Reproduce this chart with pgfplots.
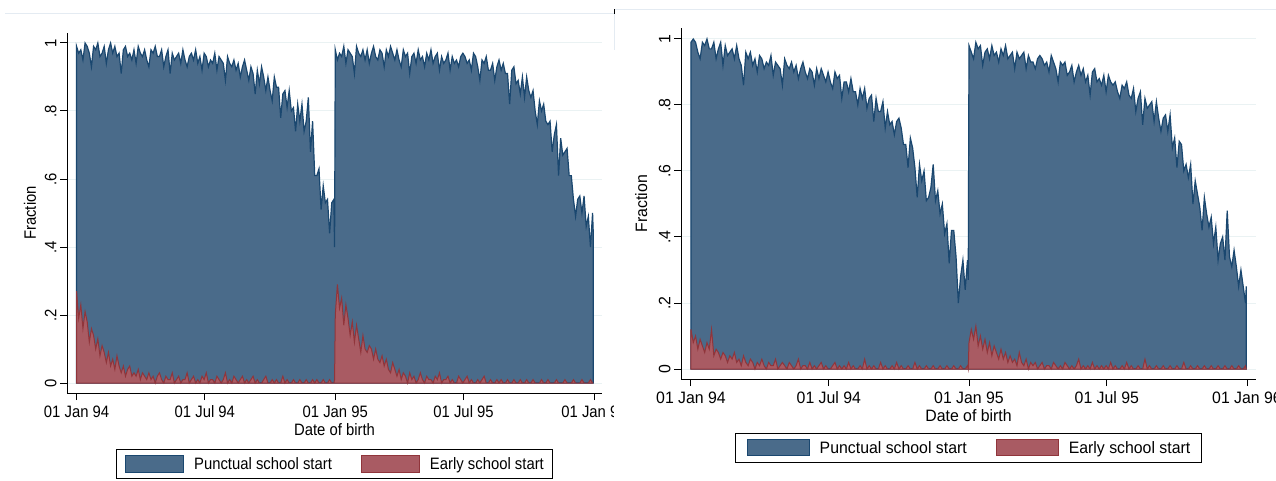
\documentclass[border=0pt]{standalone}
\usepackage{fontspec}
\setmainfont{Liberation Sans}
\newfontfamily\leftfont[FakeStretch=0.9]{Liberation Sans}
\newfontfamily\rightfont[FakeStretch=0.96]{Liberation Sans}
\usepackage{pgfplots}
\usepackage{pgfplotstable}
\pgfplotsset{compat=1.18}

\definecolor{areablue}{RGB}{74,107,138}
\definecolor{lineblue}{RGB}{26,71,111}
\definecolor{areared}{RGB}{169,91,99}
\definecolor{linered}{RGB}{144,53,59}
\definecolor{gridc}{RGB}{234,242,243}
\definecolor{framec}{RGB}{228,235,242}

% Day index d counts from 01 Jan 94 (d=0) to 01 Jan 96 (d=730);
% p = fraction with punctual school start, e = fraction with early start.
\pgfplotstableread{
d p e
0 .99 .27
3 .97 .19
6 .98 .23
9 .95 .16
12 1.00 .21
15 .99 .18
18 .97 .12
21 .93 .16
24 .99 .14
27 .98 .10
30 1.00 .13
33 .96 .08
36 .97 .11
39 .99 .09
42 .94 .06
45 .98 .09
48 1.00 .05
51 .97 .07
54 .99 .04
57 .96 .08
60 .97 .05
63 .91 .03
66 .98 .05
69 .99 .02
72 .96 .04
75 .97 .05
78 .95 .02
81 .98 .03
84 .94 .02
87 .99 .04
90 .97 .01
93 .96 .03
96 .98 .02
99 .95 .01
102 .93 .03
105 .98 .01
108 .97 .02
111 .99 .00
114 .96 .02
117 .96 .03
120 .98 .01
123 .93 .00
126 .96 .02
129 .98 .01
132 .91 .01
135 .97 .03
138 .95 .00
141 .96 .01
144 .97 .02
147 .94 .00
150 .98 .01
153 .95 .01
156 .93 .03
159 .96 .00
162 .97 .01
165 .95 .02
168 .98 .00
171 .94 .01
174 .96 .00
177 .92 .02
180 .97 .01
183 .96 .03
186 .93 .00
189 .95 .01
192 .94 .01
195 .97 .00
198 .92 .02
201 .96 .01
204 .95 .00
207 .94 .01
210 .89 .03
213 .96 .00
216 .94 .01
219 .93 .00
222 .95 .02
225 .92 .01
228 .94 .00
231 .90 .01
234 .93 .02
237 .95 .00
240 .92 .01
243 .89 .00
246 .93 .01
249 .91 .02
252 .85 .00
255 .92 .01
258 .88 .00
261 .93 .00
264 .90 .01
267 .86 .02
270 .90 .00
273 .86 .00
276 .83 .01
279 .90 .00
282 .87 .01
285 .87 .00
288 .78 .00
291 .85 .02
294 .86 .00
297 .81 .01
300 .86 .00
303 .80 .00
306 .81 .01
309 .74 .00
312 .82 .00
315 .77 .01
318 .82 .00
321 .74 .00
324 .77 .01
327 .84 .00
330 .68 .00
333 .77 .01
336 .61 .00
339 .61 .01
342 .63 .00
345 .51 .00
348 .58 .01
351 .53 .00
354 .54 .00
357 .44 .01
360 .53 .00
363 .54 .00
364 .40 .01
365 .98 .20
368 .95 .29
371 .97 .22
374 .96 .25
377 .99 .17
380 .94 .23
383 .98 .19
386 .97 .14
389 .96 .18
392 .91 .12
395 .99 .17
398 .97 .13
401 .96 .09
404 .98 .14
407 .95 .10
410 .98 .09
413 .94 .11
416 .97 .10
419 .99 .07
422 .96 .10
425 .95 .07
428 .98 .06
431 .97 .08
434 .93 .05
437 .98 .07
440 .96 .04
443 .99 .03
446 .97 .06
449 .95 .04
452 .98 .02
455 .95 .04
458 .93 .01
461 .98 .03
464 .96 .02
467 .97 .00
470 .91 .03
473 .96 .01
476 .97 .02
479 .94 .00
482 .98 .01
485 .95 .03
488 .96 .01
491 .93 .00
494 .97 .02
497 .95 .01
500 .98 .01
503 .94 .00
506 .96 .02
509 .97 .01
512 .92 .03
515 .96 .00
518 .94 .01
521 .95 .01
524 .97 .02
527 .92 .00
530 .96 .01
533 .94 .00
536 .95 .00
539 .93 .02
542 .96 .01
545 .97 .00
548 .96 .01
551 .94 .02
554 .95 .00
557 .92 .01
560 .97 .00
563 .96 .00
566 .93 .01
569 .89 .00
572 .95 .01
575 .94 .02
578 .96 .00
581 .92 .00
584 .92 .01
587 .94 .00
590 .89 .00
593 .93 .01
596 .95 .00
599 .92 .01
602 .94 .00
605 .91 .00
608 .91 .01
611 .82 .00
614 .92 .00
617 .93 .01
620 .88 .00
623 .89 .00
626 .85 .01
629 .90 .00
632 .84 .00
635 .90 .01
638 .86 .00
641 .84 .00
644 .86 .01
647 .80 .00
650 .76 .00
653 .83 .00
656 .80 .01
659 .82 .00
662 .77 .00
665 .76 .01
668 .77 .00
671 .68 .00
674 .73 .00
677 .76 .01
680 .61 .00
683 .72 .00
686 .67 .00
689 .68 .01
692 .69 .00
695 .61 .00
698 .61 .00
701 .54 .01
704 .49 .00
707 .54 .00
710 .55 .00
713 .50 .01
716 .55 .00
719 .46 .00
722 .49 .00
725 .40 .01
728 .50 .00
729 .44 .00
}\tableA

\pgfplotstableread{
d p e
0 .99 .12
3 1.00 .08
6 .99 .10
9 .96 .06
12 .94 .09
15 .99 .07
18 .98 .05
21 1.00 .08
24 .97 .06
27 .97 .12
30 .99 .04
33 .94 .06
36 .97 .05
39 .99 .03
42 .92 .05
45 .98 .04
48 .95 .02
51 .96 .04
54 .97 .03
57 .94 .05
60 .98 .02
63 .94 .03
66 .92 .01
69 .86 .04
72 .96 .02
75 .94 .01
78 .96 .03
81 .92 .02
84 .94 .00
87 .90 .02
90 .95 .01
93 .94 .03
96 .91 .01
99 .93 .00
102 .92 .02
105 .95 .01
108 .89 .01
111 .93 .03
114 .92 .00
117 .91 .01
120 .86 .02
123 .94 .01
126 .92 .00
129 .91 .02
132 .93 .01
135 .90 .00
138 .92 .01
141 .88 .03
144 .91 .00
147 .93 .01
150 .90 .01
153 .88 .00
156 .91 .02
159 .90 .00
162 .86 .01
165 .91 .00
168 .88 .01
171 .91 .02
174 .89 .00
177 .87 .01
180 .90 .00
183 .87 .00
186 .85 .01
189 .90 .02
192 .88 .00
195 .89 .01
198 .82 .00
201 .87 .01
204 .87 .00
207 .84 .02
210 .88 .00
213 .84 .01
216 .84 .00
219 .80 .00
222 .85 .01
225 .82 .00
228 .85 .03
231 .79 .00
234 .82 .01
237 .83 .00
240 .75 .01
243 .82 .00
246 .78 .00
249 .78 .02
252 .81 .00
255 .73 .01
258 .78 .00
261 .74 .00
264 .75 .01
267 .71 .00
270 .75 .02
273 .76 .00
276 .73 .01
279 .68 .00
282 .68 .00
285 .61 .01
288 .70 .00
291 .67 .00
294 .61 .02
297 .52 .00
300 .62 .01
303 .57 .00
306 .60 .00
309 .51 .01
312 .52 .00
315 .55 .00
318 .62 .01
321 .51 .00
324 .54 .00
327 .47 .01
330 .50 .00
333 .41 .00
336 .44 .01
339 .32 .00
342 .42 .00
345 .42 .01
348 .34 .00
351 .20 .00
354 .28 .01
357 .33 .00
360 .24 .00
363 .33 .01
364 .27 .00
365 .98 .08
368 .96 .12
371 .94 .09
374 .99 .13
377 .97 .07
380 .98 .10
383 .92 .06
386 .96 .09
389 .97 .05
392 .94 .08
395 .98 .04
398 .95 .07
401 .96 .05
404 .93 .03
407 .97 .06
410 .95 .03
413 .98 .05
416 .94 .02
419 .95 .04
422 .96 .02
425 .91 .03
428 .96 .01
431 .94 .05
434 .95 .02
437 .96 .01
440 .91 .03
443 .95 .00
446 .93 .02
449 .93 .01
452 .91 .02
455 .94 .00
458 .95 .01
461 .94 .02
464 .92 .00
467 .93 .01
470 .90 .01
473 .95 .00
476 .93 .02
479 .91 .01
482 .87 .00
485 .93 .01
488 .92 .00
491 .93 .02
494 .89 .01
497 .90 .00
500 .92 .01
503 .87 .00
506 .90 .01
509 .92 .03
512 .89 .00
515 .91 .01
518 .87 .00
521 .89 .01
524 .83 .00
527 .90 .02
530 .91 .00
533 .87 .01
536 .88 .00
539 .86 .01
542 .89 .00
545 .84 .01
548 .89 .00
551 .87 .02
554 .86 .00
557 .87 .01
560 .84 .00
563 .82 .00
566 .86 .01
569 .85 .00
572 .87 .02
575 .83 .00
578 .82 .01
581 .85 .00
584 .78 .00
587 .82 .01
590 .84 .00
593 .74 .00
596 .82 .03
599 .79 .00
602 .80 .01
605 .81 .00
608 .75 .00
611 .81 .01
614 .76 .00
617 .72 .00
620 .76 .01
623 .77 .00
626 .72 .00
629 .77 .01
632 .67 .00
635 .70 .00
638 .61 .01
641 .69 .00
644 .68 .00
647 .60 .02
650 .62 .00
653 .58 .00
656 .62 .01
659 .50 .00
662 .57 .00
665 .53 .01
668 .49 .00
671 .42 .00
674 .52 .01
677 .47 .00
680 .43 .00
683 .46 .01
686 .38 .00
689 .43 .00
692 .33 .01
695 .38 .00
698 .40 .00
701 .33 .01
704 .48 .00
707 .34 .00
710 .31 .01
713 .36 .00
716 .31 .00
719 .25 .01
722 .30 .00
725 .25 .00
728 .20 .01
729 .25 .00
}\tableB

\pgfplotsset{
  stataarea/.style={
    scale only axis,
    axis x line*=bottom, axis y line*=left,
    axis line style={-, line width=1pt, black},
    tick align=outside, major tick length=7pt,
    tick style={line width=1pt, black},
    xtick={0,181,365,546,730},
    xticklabels={01 Jan 94,01 Jul 94,01 Jan 95,01 Jul 95,01 Jan 96},
    ytick={0,0.2,0.4,0.6,0.8,1},
    yticklabels={0,.2,.4,.6,.8,1},
    xticklabel style={yshift=-2pt},
    yticklabel style={rotate=90, anchor=south},
    ymajorgrids, major grid style={gridc, line width=1pt},
    xlabel={Date of birth}, ylabel={Fraction},
    xlabel style={at={(axis description cs:0.5,-0.103)}, anchor=center},
    ylabel style={at={(axis description cs:-0.069,0.5)}, anchor=center},
    legend columns=2,
    legend cell align=left,
    legend style={draw=black, line width=1pt, anchor=north,
      inner ysep=5.5pt,
      nodes={inner xsep=0pt, inner ysep=2pt},
      /tikz/every odd column/.append style={column sep=10pt},
      /tikz/every even column/.append style={column sep=29pt}},
  },
  leftfonts/.style={
    tick label style={font=\leftfont\fontsize{16.5}{19}\selectfont},
    label style={font=\leftfont\fontsize{16.5}{19}\selectfont},
    legend style={font=\leftfont\fontsize{16.5}{19}\selectfont},
  },
  rightfonts/.style={
    tick label style={font=\rightfont\fontsize{16.5}{19}\selectfont},
    label style={font=\rightfont\fontsize{16.5}{19}\selectfont},
    legend style={font=\rightfont\fontsize{16.5}{19}\selectfont},
  },
  punct/.style={fill=areablue, draw=lineblue, line width=1.2pt},
  early/.style={fill=areared, draw=linered, line width=1pt},
}

\begin{document}
\begin{tikzpicture}
\useasboundingbox (0pt,0pt) rectangle (1276pt,480pt);

% left panel
\begin{axis}[stataarea, leftfonts,
  at={(67pt,87pt)}, anchor=south west,
  width=535pt, height=360pt,
  xmin=-13.5, xmax=741.3,
  ymin=-0.0294, ymax=1.0294,
  legend image code/.code={\draw[#1, line width=1pt] (0pt,-8.5pt) rectangle (58pt,8.5pt);},
  legend style={at={(0.5,-0.156)}, inner xsep=9pt}]
\addplot[punct] table[x=d, y=p] {\tableA} \closedcycle;
\addlegendentry{Punctual school start}
\addplot[early] table[x=d, y=e] {\tableA} \closedcycle;
\addlegendentry{Early school start}
\end{axis}

% the right panel starts here and cuts off whatever lies beyond
\fill[white] (614pt,0pt) rectangle (1276pt,480pt);
\draw[framec, line width=1pt] (5pt,466pt) -- (614pt,466pt);
\draw[framec, line width=1pt] (614pt,470pt) -- (1276pt,470pt);
\draw[framec, line width=0.8pt] (614.5pt,466pt) -- (614.5pt,430pt);
\draw[black, line width=1.5pt] (614.5pt,466pt) -- (614.5pt,470.5pt);

% right panel
\begin{axis}[stataarea, rightfonts,
  at={(681pt,101pt)}, anchor=south west,
  width=575pt, height=351pt,
  xmin=-13.1, xmax=741.8,
  ymin=-0.0303, ymax=1.0333,
  legend image code/.code={\draw[#1, line width=1pt] (0pt,-8pt) rectangle (62pt,8pt);},
  legend style={at={(0.5,-0.154)}, inner xsep=11pt}]
\addplot[punct] table[x=d, y=p] {\tableB} \closedcycle;
\addlegendentry{Punctual school start}
\addplot[early] table[x=d, y=e] {\tableB} \closedcycle;
\addlegendentry{Early school start}
\end{axis}
\end{tikzpicture}
\end{document}
